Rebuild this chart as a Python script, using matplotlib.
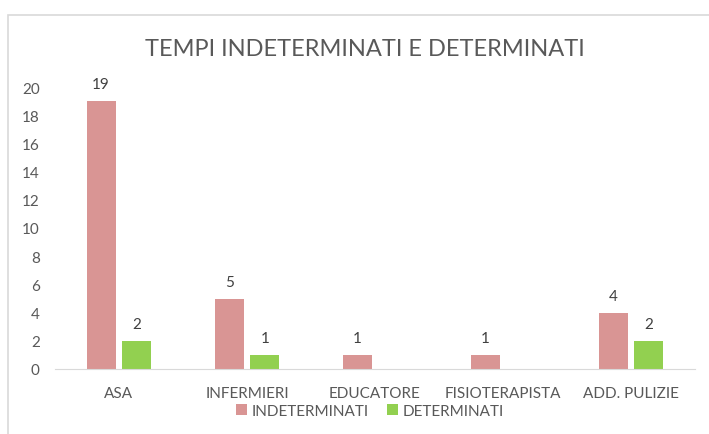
import matplotlib.pyplot as plt
import numpy as np
from matplotlib.patches import Rectangle

categories = ['ASA', 'INFERMIERI', 'EDUCATORE', 'FISIOTERAPISTA', 'ADD. PULIZIE']
indeterminati = [19, 5, 1, 1, 4]
determinati = [2, 1, 0, 0, 2]
yticks = [0, 2, 4, 6, 8, 10, 12, 14, 16, 18, 20]

pink = '#d99594'
green = '#92d050'
grey_txt = '#595959'

plt.rcParams['font.family'] = ['Lato', 'DejaVu Sans']

fig = plt.figure(figsize=(7.09, 4.35), dpi=100)
# chart border
fig.patches.append(Rectangle((8 / 709, -0.05), 1.1, 1 - 16 / 435 + 0.05,
                             transform=fig.transFigure, fill=False,
                             edgecolor='#d9d9d9', linewidth=1.2))

ax = fig.add_axes([55 / 709, 1 - 370 / 435, 640 / 709, (370 - 88) / 435])

x = np.arange(len(categories))
w = 0.227
off = 0.14
b1 = ax.bar(x - off, indeterminati, w, color=pink, label='INDETERMINATI')
b2 = ax.bar(x + off, determinati, w, color=green, label='DETERMINATI')

for bars, vals in ((b1, indeterminati), (b2, determinati)):
    for r, v in zip(bars, vals):
        if v > 0:
            ax.annotate(str(v), (r.get_x() + r.get_width() / 2, v),
                        xytext=(0, 7), textcoords='offset points',
                        ha='center', va='bottom', fontsize=11, color='#404040')

ax.set_xlim(-0.5, 4.5)
ax.set_ylim(0, 20)
ax.set_yticks(yticks)
ax.set_xticks(x)
ax.set_xticklabels(categories)
for s in ['top', 'right', 'left']:
    ax.spines[s].set_visible(False)
ax.spines['bottom'].set_color('#d9d9d9')
ax.tick_params(axis='both', length=0, labelsize=11, colors=grey_txt)
ax.tick_params(axis='x', pad=12)
ax.tick_params(axis='y', pad=11)

fig.text(365 / 709, 1 - 49 / 435, 'TEMPI INDETERMINATI E DETERMINATI',
         ha='center', va='center', fontsize=17, color=grey_txt)

fig.legend(loc='center', bbox_to_anchor=(370 / 709, 1 - 412 / 435), ncol=2,
           frameon=False, fontsize=11, labelcolor=grey_txt,
           handlelength=0.7, handleheight=0.7, handletextpad=0.3,
           columnspacing=1.2)

fig.savefig('out.png', dpi=100)
